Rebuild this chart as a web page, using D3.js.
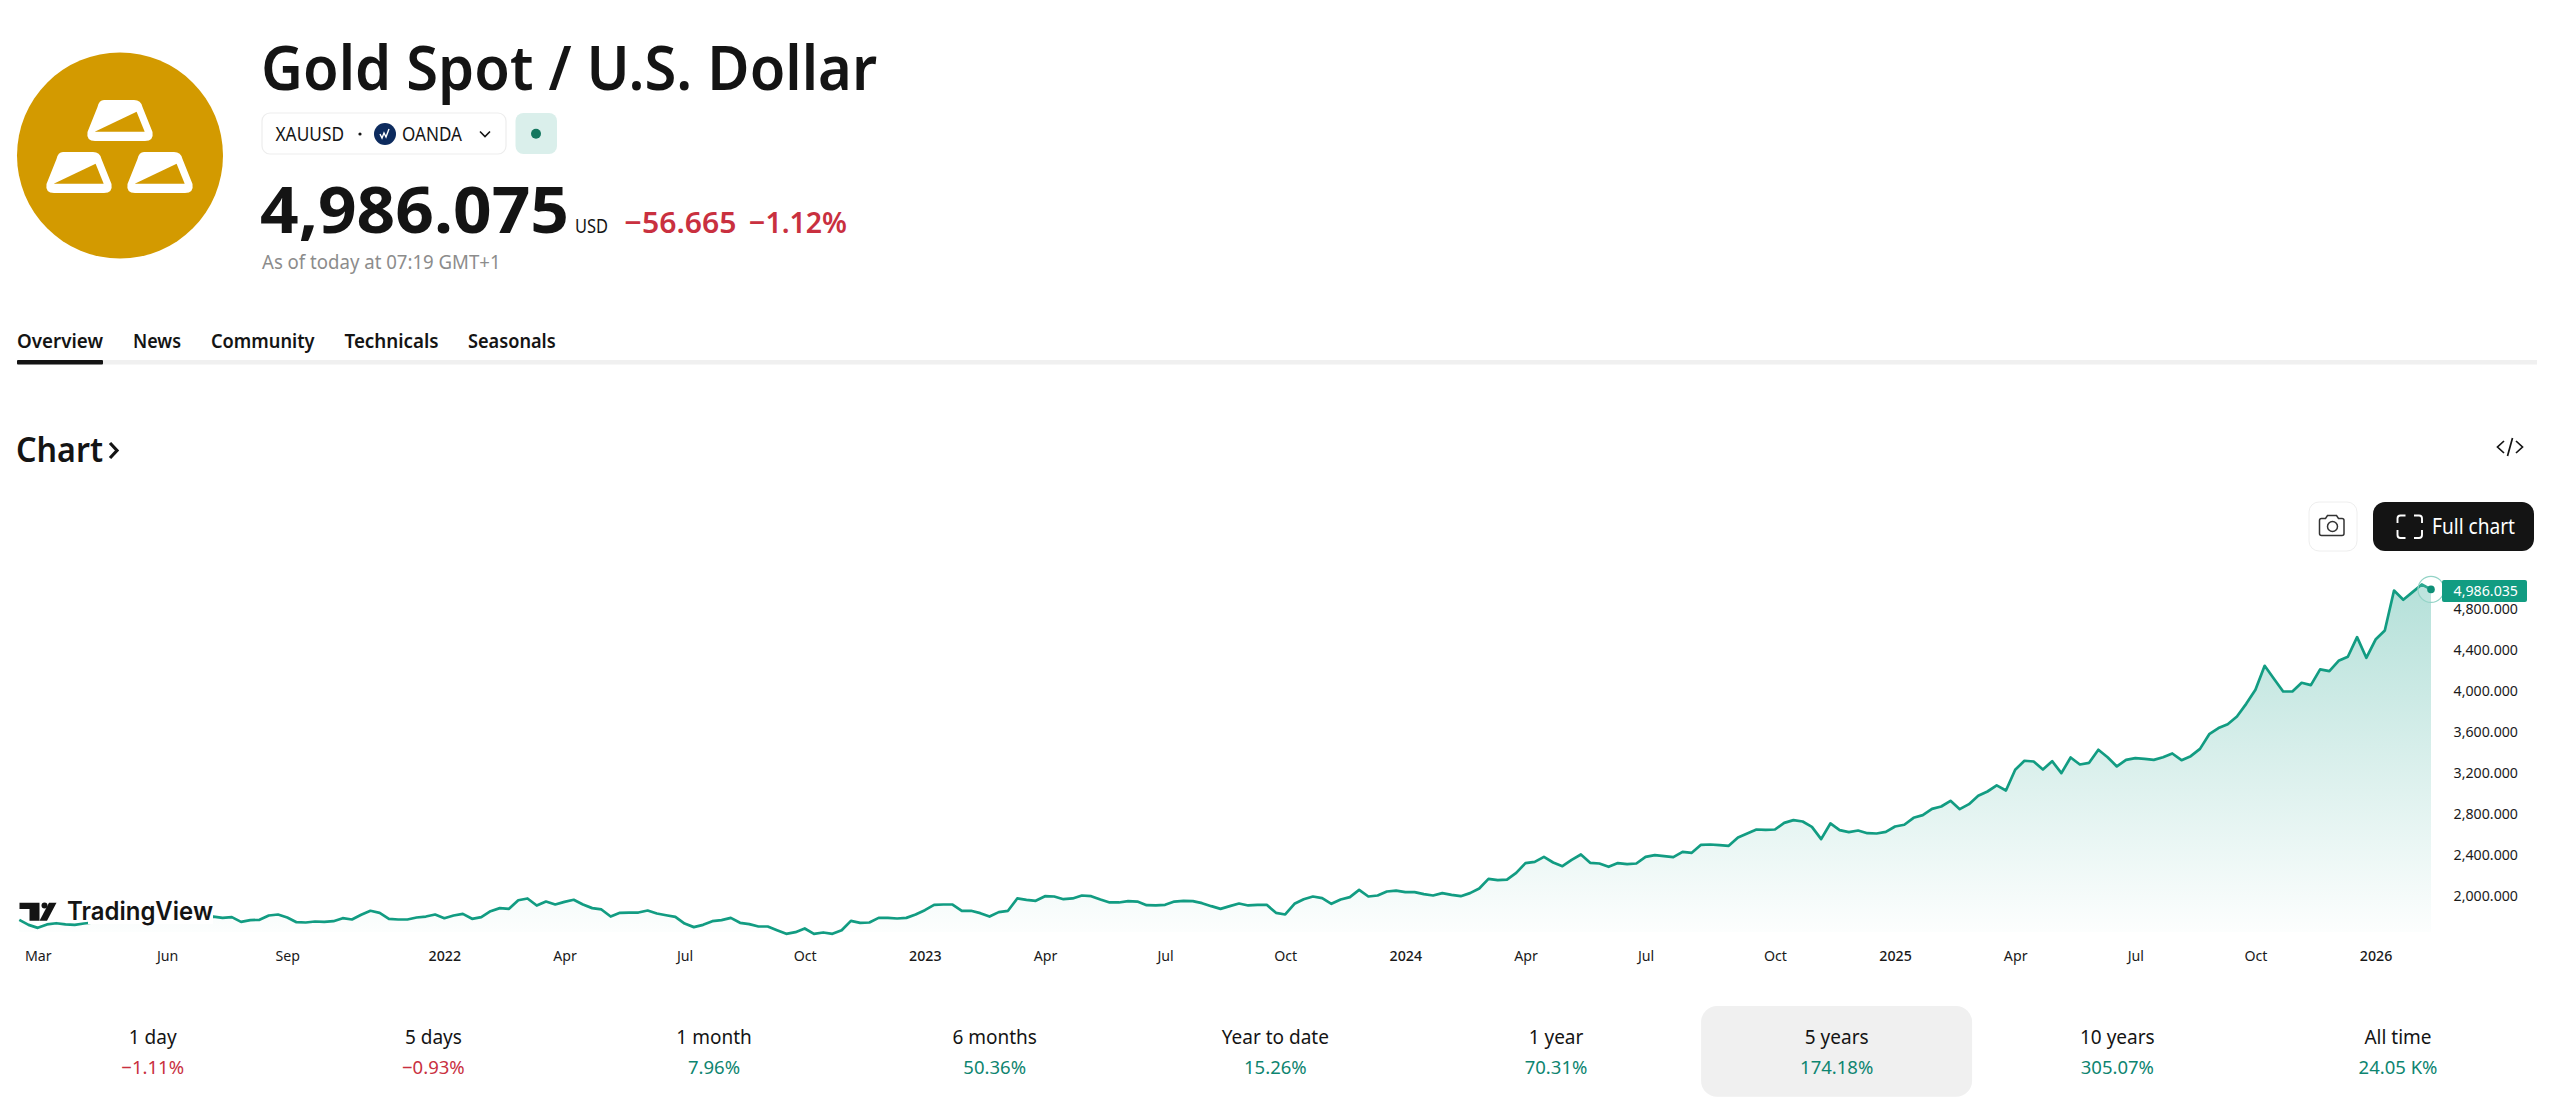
<!DOCTYPE html>
<html lang="en">
<head>
<meta charset="utf-8">
<title>Gold Spot / U.S. Dollar</title>
<script src="https://cdn.jsdelivr.net/npm/d3@7"></script>
<style>
  html, body { margin: 0; padding: 0; background: #fff; overflow: hidden; }
  svg { display: block; font-family: "Noto Sans", "Open Sans", sans-serif; }
  .axis path, .axis line { display: none; }
  .axis text { font-family: "Noto Sans", sans-serif; fill: #1a1a1a; }
</style>
</head>
<body>
<svg id="page" width="2560" height="1110"></svg>
<script>
// Weekly closes of XAUUSD, March 2021 to February 2026
const weeklyCloses = [
  1770,1721,1692,1725,1737,1725,1721,1734,1744,1754,1763,1770,1789,1812,1838,1861,1893,1861,1796,1776,1789,1802,
  1789,1796,1750,1767,1770,1812,1822,1793,1747,1744,1754,1750,1757,1786,1773,1819,1858,1838,1780,1773,
  1773,1793,1802,1822,1786,1812,1828,1780,1796,1854,
  1884,1877,1961,1978,1909,1948,1919,1945,1965,1919,1884,1871,1802,1838,1841,1841,1861,1832,1815,1799,
  1734,1699,1721,1757,1767,1789,1741,1728,1705,1705,1669,1634,1650,1686,1634,1647,1634,1669,1760,1741,
  1744,1789,1789,1783,1789,1822,1864,1916,1919,1919,1858,1858,1835,
  1802,1845,1858,1978,1965,1955,2000,1997,1971,1978,2007,2000,1968,1939,1939,1952,1948,1913,1910,1916,
  1948,1955,1952,1932,1903,1877,1903,1929,1910,1916,1916,1838,1822,1926,1971,1997,1981,1926,1968,1991,
  2062,1997,2007,2046,2055,2039,2039,2020,2007,2030,2013,2000,2030,2075,
  2169,2156,2162,2227,2322,2334,2383,2328,2292,2354,2406,2325,2318,2286,2322,2312,2318,2383,2400,2390,
  2380,2432,2422,2500,2503,2497,2490,2571,2610,2649,2646,2649,2714,2740,2727,2675,2555,2708,2643,2623,
  2639,2613,2610,2626,2678,2695,2763,2789,2850,2873,2928,
  2847,2896,2977,3019,3078,3029,3230,3318,3311,3233,3314,3198,3350,3282,3298,3425,3353,3263,3327,3344,
  3337,3327,3353,3389,3324,3363,3434,3577,3636,3674,3749,3872,4009,4242,4116,3992,3992,4077,4054,4207,
  4190,4291,4330,4521,4320,4498,4586,4975,4885,4959,5034,4986.035
];
const lastPrice = weeklyCloses[weeklyCloses.length - 1];

// Time axis: week index of each labelled tick
const tickWeeks  = [2,16,29,46,59,72,85,98,111,124,137,150,163,176,190,203,216,229,242,255];
const tickLabels = ["Mar","Jun","Sep","2022","Apr","Jul","Oct","2023","Apr","Jul","Oct","2024","Apr","Jul","Oct","2025","Apr","Jul","Oct","2026"];

const priceTicks = [2000,2400,2800,3200,3600,4000,4400,4800];

const tabNames = ["Overview","News","Community","Technicals","Seasonals"];
const tabLeft  = [17,133,211,344.5,468];
const tabRight = [103,181,314.6,438.6,555.7];

const periodNames   = ["1 day","5 days","1 month","6 months","Year to date","1 year","5 years","10 years","All time"];
const periodChanges = ["−1.11%","−0.93%","7.96%","50.36%","15.26%","70.31%","174.18%","305.07%","24.05 K%"];
const periodDown    = [true,true,false,false,false,false,false,false,false];
const selectedPeriod = 6;

const INK = "#141414", UP = "#089981", UPTEXT = "#0e8570", DOWN = "#c9303f";

const svg = d3.select("#page");

// Text stretched to span exactly [x1, x2]
function fitted(parent, str, x1, x2, baseline, size, weight, color) {
  return parent.append("text")
    .attr("x", x1).attr("y", baseline)
    .attr("textLength", x2 - x1).attr("lengthAdjust", "spacingAndGlyphs")
    .attr("font-size", size).attr("font-weight", weight).attr("fill", color)
    .text(str);
}

/* ---------- symbol header ---------- */
const head = svg.append("g");
head.append("circle").attr("cx", 120).attr("cy", 155.5).attr("r", 103).attr("fill", "#d39a00");

// Three ingots on the badge
const ingots = head.selectAll("g.ingot").data([[87,100],[46,152],[127,152]]).join("g")
  .attr("class", "ingot").attr("transform", d => `translate(${d[0]},${d[1]})`);
ingots.append("path")
  .attr("d", "M17 0H47Q54 0 55.500 7L65.500 32Q67 41 58 41H8Q-1 41 .5 32L10.500 7Q12 0 17 0Z")
  .attr("fill", "#fff");
ingots.append("path").attr("d", "M49.600 11.700L57.700 31.700H7.700Z").attr("fill", "#d39a00");

fitted(head, "Gold Spot / U.S. Dollar", 261, 877, 90, 62, 600, INK);

head.append("rect").attr("x", 262).attr("y", 113).attr("width", 244).attr("height", 41).attr("rx", 8)
  .attr("fill", "#fff").attr("stroke", "#ededed").attr("stroke-width", 1.2);
fitted(head, "XAUUSD", 275.5, 344, 141, 20, 400, INK);
head.append("circle").attr("cx", 360).attr("cy", 134).attr("r", 1.6).attr("fill", INK);
head.append("circle").attr("cx", 385).attr("cy", 134).attr("r", 11).attr("fill", "#0d2b5e");
head.append("path").attr("d", "M380 134l2 4 2-5 2 4 3-8").attr("fill", "none").attr("stroke", "#fff").attr("stroke-width", 1.4);
fitted(head, "OANDA", 402, 462, 141, 20, 400, INK);
head.append("path").attr("d", "M480 131.500l5 5 5-5").attr("fill", "none").attr("stroke", INK).attr("stroke-width", 1.6);
head.append("rect").attr("x", 515.5).attr("y", 113).attr("width", 41.5).attr("height", 41).attr("rx", 8).attr("fill", "#daefeb");
head.append("circle").attr("cx", 536).attr("cy", 133.7).attr("r", 5).attr("fill", "#14775f");

fitted(head, "4,986.075", 260, 569, 233, 64, 700, INK);
fitted(head, "USD", 575, 608, 233, 20, 400, INK);
fitted(head, "−56.665", 624.6, 736.5, 233, 29, 600, DOWN);
fitted(head, "−1.12%", 749, 847, 233, 29, 600, DOWN);
fitted(head, "As of today at 07:19 GMT+1", 262, 500.6, 269, 19.5, 400, "#8c8c8c");

/* ---------- tab strip ---------- */
const tabsG = svg.append("g");
tabsG.append("rect").attr("x", 17).attr("y", 360).attr("width", 2520).attr("height", 4.5).attr("fill", "#f0f0f0");
tabsG.append("rect").attr("x", 17).attr("y", 360).attr("width", 86).attr("height", 4.5).attr("rx", 1).attr("fill", INK);
tabNames.forEach((t, i) => fitted(tabsG, t, tabLeft[i], tabRight[i], 347.7, 19.5, 600, INK));

/* ---------- section heading and chart buttons ---------- */
const tools = svg.append("g");
fitted(tools, "Chart", 16, 103, 462, 34, 600, INK);
tools.append("path").attr("d", "M110 443l7 7.500-7 7.500").attr("fill", "none").attr("stroke", INK).attr("stroke-width", 3.2);

tools.append("path").attr("d", "M2504 441l-6.500 6 6.500 6M2516 441l6.500 6-6.500 6M2512.500 438l-5 18")
  .attr("fill", "none").attr("stroke", INK).attr("stroke-width", 1.7);

tools.append("rect").attr("x", 2309).attr("y", 502).attr("width", 48).attr("height", 49).attr("rx", 10)
  .attr("fill", "#fff").attr("stroke", "#eeeeee");
tools.append("path")
  .attr("d", "M2323 518.500h4l2-3h9l2 3h3.500a2 2 0 0 1 2 2v13a2 2 0 0 1-2 2h-20.500a2 2 0 0 1-2-2v-13a2 2 0 0 1 2-2z")
  .attr("transform", "translate(-1.5,0)")
  .attr("fill", "none").attr("stroke", "#333").attr("stroke-width", 1.5);
tools.append("circle").attr("cx", 2332.5).attr("cy", 526.5).attr("r", 5).attr("fill", "none").attr("stroke", "#333").attr("stroke-width", 1.5);

tools.append("rect").attr("x", 2373).attr("y", 502).attr("width", 161).attr("height", 49).attr("rx", 12).attr("fill", "#141414");
tools.append("path")
  .attr("d", "M2397.500 523v-4.500a3 3 0 0 1 3-3h5M2414 515.500h5a3 3 0 0 1 3 3v4.500M2422 530v5a3 3 0 0 1-3 3h-5M2405.500 538h-5a3 3 0 0 1-3-3v-5")
  .attr("fill", "none").attr("stroke", "#fff").attr("stroke-width", 1.9);
fitted(tools, "Full chart", 2432, 2515, 534, 21, 400, "#fff");

/* ---------- price chart ---------- */
const x = d3.scaleLinear().domain([0, weeklyCloses.length - 1]).range([19.3, 2431]);
const y = d3.scaleLinear().domain([2000, 4800]).range([896.2, 608.5]);
const baseY = 932;

const defs = svg.append("defs");
const grad = defs.append("linearGradient").attr("id", "areaFade")
  .attr("gradientUnits", "userSpaceOnUse").attr("x1", 0).attr("x2", 0).attr("y1", 585).attr("y2", 945);
grad.append("stop").attr("offset", 0).attr("stop-color", UP).attr("stop-opacity", 0.3);
grad.append("stop").attr("offset", 1).attr("stop-color", UP).attr("stop-opacity", 0);

const chart = svg.append("g");
chart.append("path").datum(weeklyCloses)
  .attr("fill", "url(#areaFade)")
  .attr("d", d3.area().x((d, i) => x(i)).y0(baseY).y1(d => y(d)));
chart.append("path").datum(weeklyCloses)
  .attr("fill", "none").attr("stroke", "#129c82").attr("stroke-width", 2.7).attr("stroke-linejoin", "round")
  .attr("d", d3.line().x((d, i) => x(i)).y(d => y(d)));

// Last-price marker with its pulse ring
const lastX = x(weeklyCloses.length - 1), lastY = y(lastPrice);
chart.append("circle").attr("cx", lastX).attr("cy", lastY).attr("r", 13)
  .attr("fill", "#ffffff").attr("fill-opacity", 0.12).attr("stroke", "#93d3c6").attr("stroke-width", 1.2);
chart.append("circle").attr("cx", lastX).attr("cy", lastY).attr("r", 3.8).attr("fill", "#0f8f77");

// Price axis, labels right-aligned against the chart's right edge
const yAxis = d3.axisRight(y).tickValues(priceTicks).tickSize(0).tickPadding(0).tickFormat(d3.format(",.3f"));
const yG = svg.append("g").attr("class", "axis").attr("transform", "translate(2518,0)").call(yAxis);
yG.selectAll("text").attr("text-anchor", "end").attr("font-size", 14.2);

// Time axis; year ticks are set heavier
const xAxis = d3.axisBottom(x).tickValues(tickWeeks).tickSize(0).tickPadding(0)
  .tickFormat(d => tickLabels[tickWeeks.indexOf(d)]);
const xG = svg.append("g").attr("class", "axis").attr("transform", "translate(0,951)").call(xAxis);
xG.selectAll("text").attr("font-size", 14.2)
  .attr("font-weight", (d, i) => /^\d/.test(tickLabels[i]) ? 500 : 400);

// Last-price tag
const tag = svg.append("g");
tag.append("rect").attr("x", 2442).attr("y", 580).attr("width", 85).attr("height", 22).attr("rx", 2).attr("fill", "#129c82");
tag.append("text").attr("x", 2518).attr("y", 596).attr("text-anchor", "end")
  .attr("font-size", 14.2).attr("fill", "#fff").text(d3.format(",.3f")(lastPrice));

// Watermark sits above the line, masking it through the wordmark
const mark = svg.append("g");
mark.append("rect").attr("x", 88).attr("y", 898).attr("width", 125).attr("height", 26).attr("fill", "#fff");
mark.append("path").attr("d", "M19.500 902.700H39.500V920.700H29.500V909H19.500Z").attr("fill", INK);
mark.append("circle").attr("cx", 44.5).attr("cy", 905.6).attr("r", 3).attr("fill", INK);
mark.append("path").attr("d", "M49 902.700H56.500L47 920.700H39.500Z").attr("fill", INK);
mark.append("text").attr("x", 67).attr("y", 920)
  .attr("textLength", 146).attr("lengthAdjust", "spacingAndGlyphs")
  .attr("font-family", "Inter").attr("font-size", 25).attr("font-weight", 600).attr("fill", INK)
  .attr("stroke", "#fff").attr("stroke-width", 2).attr("paint-order", "stroke")
  .text("TradingView");

/* ---------- period performance row ---------- */
const periodX = d3.scalePoint().domain(periodNames).range([152.7, 2398]);
const perf = svg.append("g");
perf.append("rect")
  .attr("x", periodX(periodNames[selectedPeriod]) - 135.6).attr("y", 1006)
  .attr("width", 271).attr("height", 90.7).attr("rx", 16).attr("fill", "#f0f0f0");
const cells = perf.selectAll("g.cell").data(periodNames).join("g").attr("class", "cell")
  .attr("transform", d => `translate(${periodX(d)},0)`).attr("text-anchor", "middle");
cells.append("text").attr("y", 1044).attr("font-size", 19).attr("fill", INK).text(d => d);
cells.append("text").attr("y", 1073.5).attr("font-size", 18.5)
  .attr("fill", (d, i) => periodDown[i] ? DOWN : UPTEXT)
  .text((d, i) => periodChanges[i]);
</script>
</body>
</html>
